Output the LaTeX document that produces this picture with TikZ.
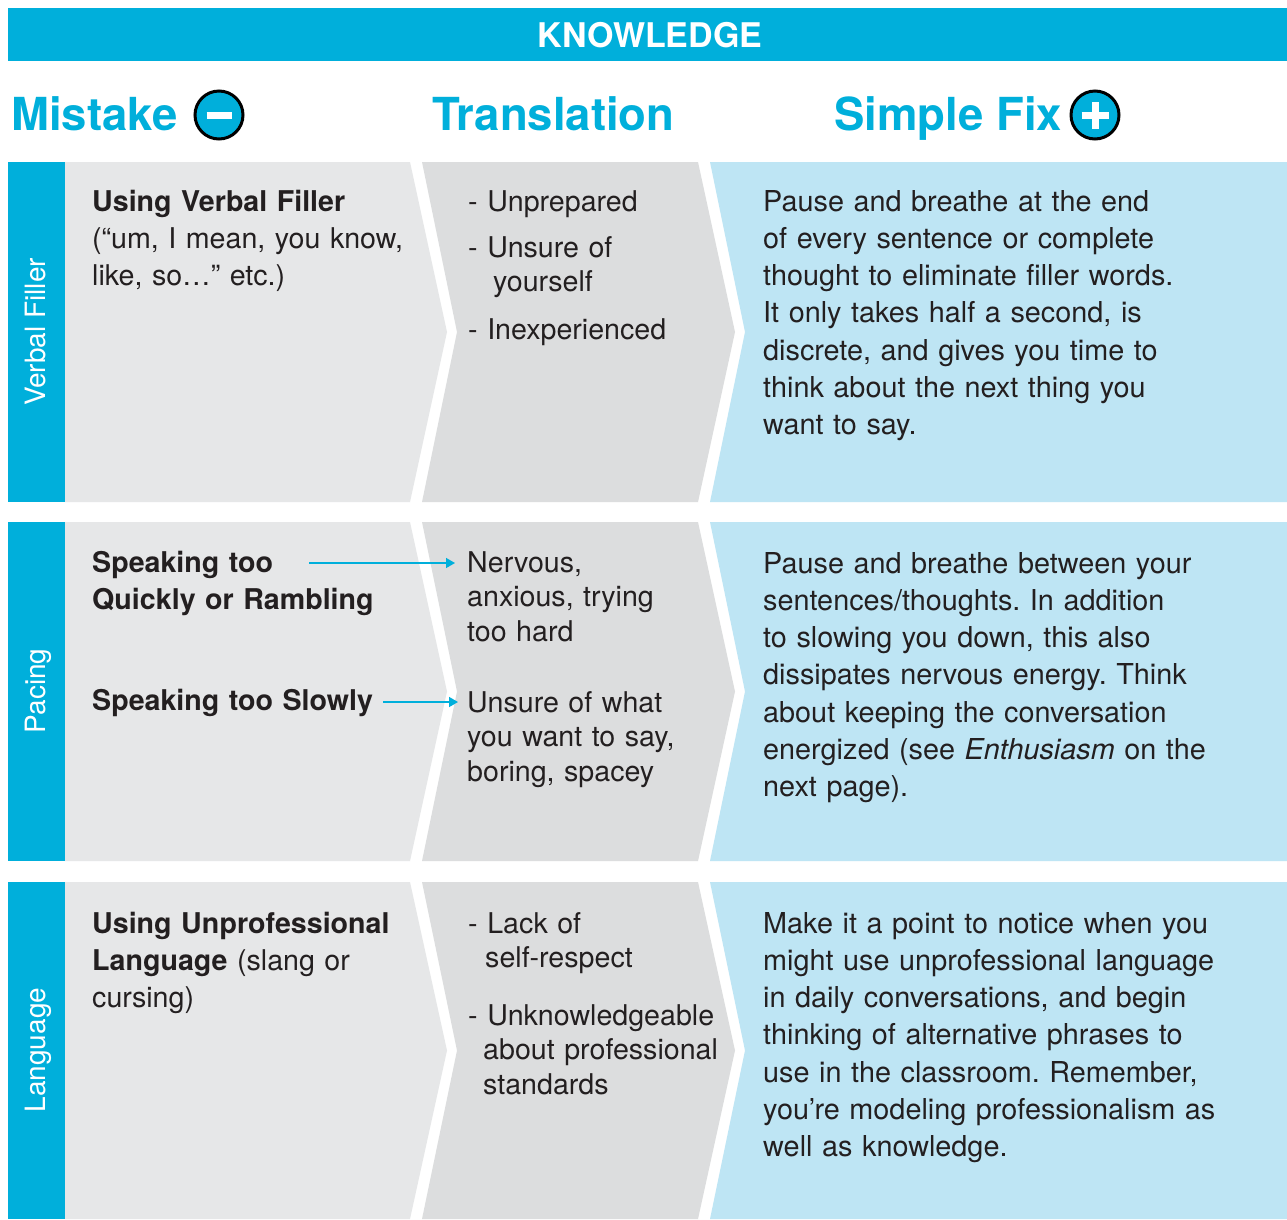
\documentclass[tikz,border=0pt]{standalone}
\usepackage{fontspec}
\setmainfont{TeX Gyre Heros}
\usetikzlibrary{arrows.meta}
\definecolor{kcyan}{HTML}{00AFDB}
\definecolor{mgray}{HTML}{E6E7E8}
\definecolor{tgray}{HTML}{DCDDDE}
\definecolor{fblue}{HTML}{BEE5F4}
\definecolor{ktext}{HTML}{231F20}
\frenchspacing
\tikzset{
  hdr/.style={font=\fontsize{45.5}{50}\selectfont\bfseries, text=kcyan, anchor=base west, inner sep=0},
  banner/.style={font=\fontsize{34}{38}\selectfont\bfseries, text=white, inner sep=0},
  sidelbl/.style={font=\fontsize{28}{32}\selectfont, text=white, rotate=90, anchor=base, inner sep=0},
  mistxt/.style={font=\fontsize{28.6}{37.3}\selectfont, text=ktext, anchor=base west, inner sep=0, text width=340pt, align=left},
  transtxt/.style={font=\fontsize{28.6}{34.5}\selectfont, text=ktext, anchor=base west, inner sep=0, text width=270pt, align=left},
  fixtxt/.style={font=\fontsize{28.8}{37.3}\selectfont, text=ktext, anchor=base west, inner sep=0, text width=520pt, align=left},
  sign/.style={circle, draw=black, line width=3pt, fill=kcyan, minimum size=48pt, inner sep=0},
  signbar/.style={white, line width=7pt},
  conn/.style={kcyan, line width=1.5pt, -{Triangle[length=9pt,width=10pt]}},
}
\begin{document}
\begin{tikzpicture}[x=1pt,y=-1pt]
\useasboundingbox (0,0) rectangle (1287,1219);
\fill[white] (0,0) rectangle (1287,1219);
% banner
\fill[kcyan] (8,8) rectangle (1287,61);
\node[banner] (title) at (650,35) {KNOWLEDGE};
% headers
\node[hdr] (hmist) at (11,130) {Mistake};
\node[sign] (minus) at (219,115) {};
\draw[signbar] ([xshift=-12.5pt]minus.center) -- ([xshift=12.5pt]minus.center);
\node[hdr] (htrans) at (432,130) {Translation};
\node[hdr] (hfix) at (834,130) {Simple Fix};
\node[sign] (plus) at (1095,115) {};
\draw[signbar] ([xshift=-13.5pt]plus.center) -- ([xshift=13.5pt]plus.center);
\draw[signbar] ([yshift=-13.5pt]plus.center) -- ([yshift=13.5pt]plus.center);
% rows
\foreach \T/\B in {162/502, 522/861, 882/1219}{
  \pgfmathsetmacro{\M}{(\T+\B)/2}
  \fill[kcyan] (8,\T) rectangle (65,\B);
  \fill[mgray] (65,\T) -- (410,\T) -- (447,\M) -- (410,\B) -- (65,\B) -- cycle;
  \fill[tgray] (422,\T) -- (698,\T) -- (735,\M) -- (698,\B) -- (422,\B) -- (457,\M) -- cycle;
  \fill[fblue] (710,\T) -- (1287,\T) -- (1287,\B) -- (710,\B) -- (745,\M) -- cycle;
}
% side labels
\node[sidelbl] (s1) at (45,332) {Verbal Filler};
\node[sidelbl] (s2) at (45,691) {Pacing};
\node[sidelbl] (s3) at (45,1050) {Language};
% row 1
\node[mistxt] (m1) at (92,211) {\textbf{Using Verbal Filler}\\(“um, I mean, you know,\\like, so…” etc.)};
\node[transtxt] (t1a) at (468,211) {- Unprepared};
\node[transtxt] (t1b) at (468,257) {- Unsure of\\\hspace*{25pt}yourself};
\node[transtxt] (t1c) at (468,339) {- Inexperienced};
\node[fixtxt] (f1) at (763,211) {Pause and breathe at the end\\of every sentence or complete\\thought to eliminate filler words.\\It only takes half a second, is\\discrete, and gives you time to\\think about the next thing you\\want to say.};
% row 2
\node[mistxt] (m2a) at (92,572) {\textbf{Speaking too}\\\textbf{Quickly or Rambling}};
\node[mistxt] (m2b) at (92,710) {\textbf{Speaking too Slowly}};
\node[transtxt] (t2a) at (467,572) {Nervous,\\anxious, trying\\too hard};
\node[transtxt] (t2b) at (467,712) {Unsure of what\\you want to say,\\boring, spacey};
\coordinate (a1s) at (309,563);
\coordinate (a1e) at (455,563);
\coordinate (a2s) at (383,702);
\coordinate (a2e) at (458,702);
\draw[conn] (a1s) -- (a1e);
\draw[conn] (a2s) -- (a2e);
\node[fixtxt] (f2) at (763,573) {Pause and breathe between your\\sentences/thoughts. In addition\\to slowing you down, this also\\dissipates nervous energy. Think\\about keeping the conversation\\energized (see \textit{Enthusiasm} on the\\next page).};
% row 3
\node[mistxt] (m3) at (92,933) {\textbf{Using Unprofessional}\\\textbf{Language} (slang or\\cursing)};
\node[transtxt] (t3a) at (468,933) {- Lack of\\\hspace*{17pt}self-respect};
\node[transtxt] (t3b) at (468,1025) {- Unknowledgeable\\\hspace*{15pt}about professional\\\hspace*{15pt}standards};
\node[fixtxt] (f3) at (763,933) {Make it a point to notice when you\\might use unprofessional language\\in daily conversations, and begin\\thinking of alternative phrases to\\use in the classroom. Remember,\\you’re modeling professionalism as\\well as knowledge.};
\end{tikzpicture}
\end{document}
